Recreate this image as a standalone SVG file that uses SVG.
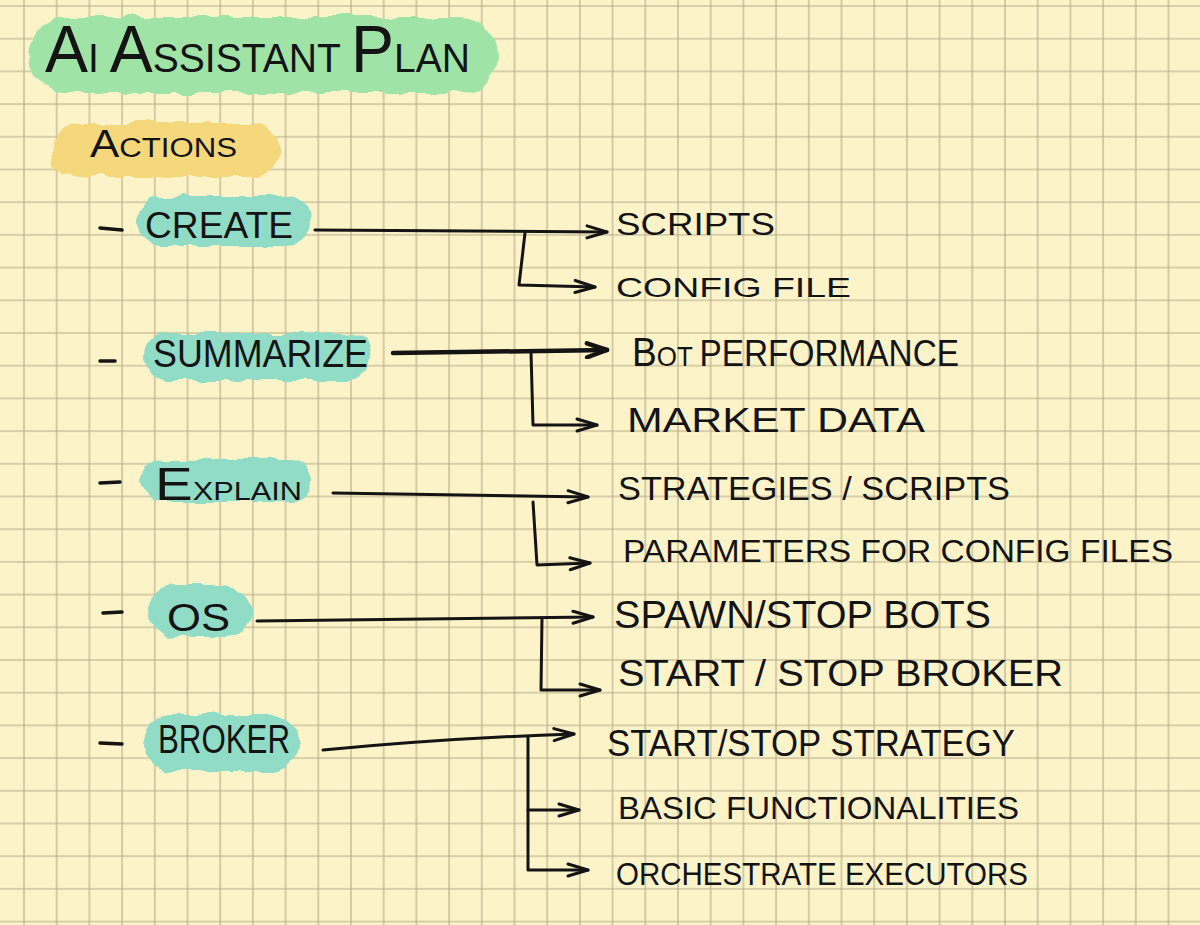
<svg xmlns="http://www.w3.org/2000/svg" width="1200" height="925" viewBox="0 0 1200 925">
  <style>
    .t { font-family: "Liberation Sans", Arial, sans-serif; fill: #141414; }
    .c { fill: none; stroke: #141414; stroke-width: 3; stroke-linecap: round; stroke-linejoin: round; }
    .thick { stroke-width: 4.5; }
    .dash { stroke: #141414; stroke-width: 3.5; stroke-linecap: round; }
    .teal { fill: #91dcc6; filter: url(#rough); }
  </style>
  <defs>
    <pattern id="grid" x="23" y="5" width="32.7" height="32.7" patternUnits="userSpaceOnUse">
      <path d="M1,0 V32.7 M0,1 H32.7" stroke="#b4ab88" stroke-width="1.1" fill="none"/>
    </pattern>
    <filter id="rough" x="-10%" y="-30%" width="120%" height="160%">
      <feTurbulence type="fractalNoise" baseFrequency="0.045" numOctaves="2" seed="4" result="n"/>
      <feDisplacementMap in="SourceGraphic" in2="n" scale="12" xChannelSelector="R" yChannelSelector="G"/>
    </filter>
    <marker id="arr" viewBox="0 0 26 16" refX="23" refY="8" markerWidth="26" markerHeight="16" markerUnits="userSpaceOnUse" orient="auto">
      <path d="M3,2 L23,8 L3,14" fill="none" stroke="#141414" stroke-width="3" stroke-linecap="round" stroke-linejoin="round"/>
    </marker>
    <marker id="arrB" viewBox="0 0 28 18" refX="24" refY="9" markerWidth="28" markerHeight="18" markerUnits="userSpaceOnUse" orient="auto">
      <path d="M4,2 L24,9 L4,16" fill="none" stroke="#141414" stroke-width="4.5" stroke-linecap="round" stroke-linejoin="round"/>
    </marker>
  </defs>

  <rect width="1200" height="925" fill="#fcf3c9"/>
  <rect width="1200" height="925" fill="url(#grid)"/>

  <g id="title">
    <rect x="28" y="17" width="470" height="76" rx="38" fill="#9fe3a7" filter="url(#rough)"/>
    <text class="t" x="45" y="72" textLength="425" lengthAdjust="spacingAndGlyphs"><tspan font-size="66">A</tspan><tspan font-size="40">I </tspan><tspan font-size="66">A</tspan><tspan font-size="40">SSISTANT </tspan><tspan font-size="66">P</tspan><tspan font-size="40">LAN</tspan></text>
  </g>

  <g id="actions">
    <rect x="52" y="123" width="228" height="54" rx="27" fill="#f5d77c" filter="url(#rough)"/>
    <text class="t" x="90" y="157" textLength="147" lengthAdjust="spacingAndGlyphs"><tspan font-size="38">A</tspan><tspan font-size="27">CTIONS</tspan></text>
  </g>

  <g id="create">
    <line class="dash" x1="100" y1="228" x2="122" y2="230"/>
    <rect class="teal" x="137" y="196" width="173" height="50" rx="25"/>
    <text class="t" x="145" y="238" font-size="36" textLength="148" lengthAdjust="spacingAndGlyphs">CREATE</text>
  </g>

  <g id="summarize">
    <line class="dash" x1="100" y1="361" x2="115" y2="361"/>
    <rect class="teal" x="144" y="333" width="227" height="47" rx="23"/>
    <text class="t" x="153" y="367" font-size="38" textLength="215" lengthAdjust="spacingAndGlyphs">SUMMARIZE</text>
  </g>

  <g id="explain">
    <line class="dash" x1="100" y1="483" x2="120" y2="482"/>
    <rect class="teal" x="140" y="460" width="171" height="42" rx="21"/>
    <text class="t" x="155" y="500" textLength="147" lengthAdjust="spacingAndGlyphs"><tspan font-size="46">E</tspan><tspan font-size="25">XPLAIN</tspan></text>
  </g>

  <g id="os">
    <line class="dash" x1="103" y1="613" x2="122" y2="612"/>
    <rect class="teal" x="149" y="584" width="102" height="54" rx="27"/>
    <text class="t" x="167" y="631" font-size="39" textLength="63" lengthAdjust="spacingAndGlyphs">OS</text>
  </g>

  <g id="broker">
    <line class="dash" x1="100" y1="743" x2="122" y2="744"/>
    <rect class="teal" x="144" y="715" width="156" height="56" rx="28"/>
    <text class="t" x="158" y="753" font-size="40" textLength="132" lengthAdjust="spacingAndGlyphs">BROKER</text>
  </g>

  <g id="connectors">
    <path class="c" d="M315,230 L607,232" marker-end="url(#arr)"/>
    <path class="c" d="M525,233 L519,285 L595,287" marker-end="url(#arr)"/>
    <path class="c thick" d="M393,353 L607,350" marker-end="url(#arrB)"/>
    <path class="c" d="M531,352 L533,425 L597,425" marker-end="url(#arr)"/>
    <path class="c" d="M333,493 L588,497" marker-end="url(#arr)"/>
    <path class="c" d="M533,502 L537,565 L590,563" marker-end="url(#arr)"/>
    <path class="c" d="M257,621 L593,617" marker-end="url(#arr)"/>
    <path class="c" d="M542,618 L541,690 L600,690" marker-end="url(#arr)"/>
    <path class="c" d="M323,750 Q450,738 574,734" marker-end="url(#arr)"/>
    <path class="c" d="M528,737 L528,870 L588,870" marker-end="url(#arr)"/>
    <path class="c" d="M528,810 L579,810" marker-end="url(#arr)"/>
  </g>

  <g id="scripts"><text class="t" x="616" y="235" font-size="32" textLength="159" lengthAdjust="spacingAndGlyphs">SCRIPTS</text></g>
  <g id="config-file"><text class="t" x="616" y="297" font-size="28" textLength="235" lengthAdjust="spacingAndGlyphs">CONFIG FILE</text></g>
  <g id="bot-performance"><text class="t" x="632" y="366" textLength="327" lengthAdjust="spacingAndGlyphs"><tspan font-size="40">B</tspan><tspan font-size="28">OT </tspan><tspan font-size="36">PERFORMANCE</tspan></text></g>
  <g id="market-data"><text class="t" x="627" y="432" font-size="35" textLength="298" lengthAdjust="spacingAndGlyphs">MARKET DATA</text></g>
  <g id="strategies-scripts"><text class="t" x="618" y="500" font-size="34" textLength="392" lengthAdjust="spacingAndGlyphs">STRATEGIES / SCRIPTS</text></g>
  <g id="parameters"><text class="t" x="623" y="562" font-size="31" textLength="550" lengthAdjust="spacingAndGlyphs">PARAMETERS FOR CONFIG FILES</text></g>
  <g id="spawn-stop-bots"><text class="t" x="614" y="628" font-size="38" textLength="377" lengthAdjust="spacingAndGlyphs">SPAWN/STOP BOTS</text></g>
  <g id="start-stop-broker"><text class="t" x="618" y="686" font-size="37" textLength="445" lengthAdjust="spacingAndGlyphs">START / STOP BROKER</text></g>
  <g id="start-stop-strategy"><text class="t" x="607" y="756" font-size="36" textLength="408" lengthAdjust="spacingAndGlyphs">START/STOP STRATEGY</text></g>
  <g id="basic-functionalities"><text class="t" x="618" y="819" font-size="31" textLength="401" lengthAdjust="spacingAndGlyphs">BASIC FUNCTIONALITIES</text></g>
  <g id="orchestrate-executors"><text class="t" x="616" y="885" font-size="32" textLength="412" lengthAdjust="spacingAndGlyphs">ORCHESTRATE EXECUTORS</text></g>
</svg>
